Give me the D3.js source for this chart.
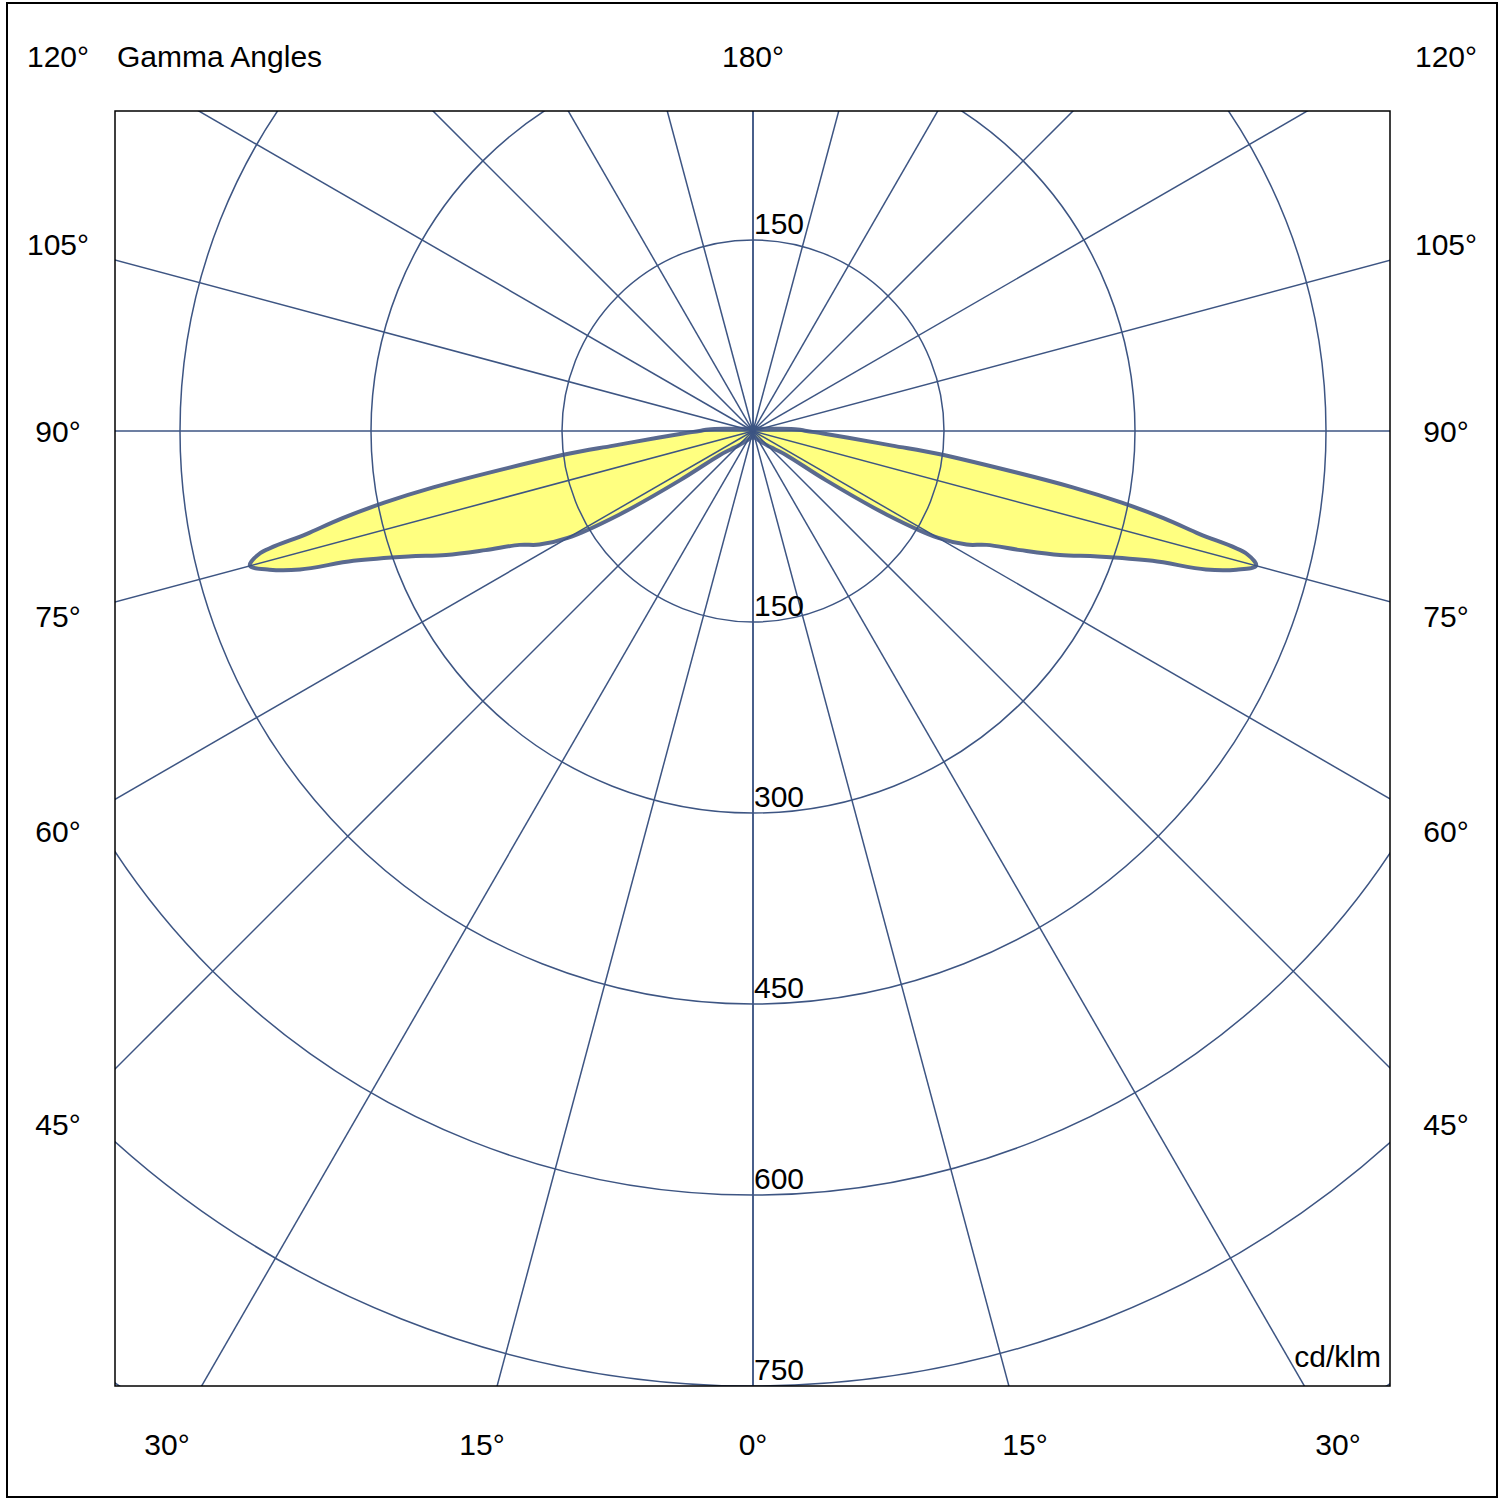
<!DOCTYPE html>
<html><head><meta charset="utf-8">
<script src="https://cdn.jsdelivr.net/npm/d3@7"></script>
<style>body{margin:0;background:#fff}text{font-family:"Liberation Sans",Arial,sans-serif;font-size:30px;fill:#000}</style>
</head><body><svg id="c" width="1503" height="1500"></svg>
<script>
const gammaAngles=[0,10,20,30,40,45,50,54,56,58,60,62,64,66,68,70,72,73,74,75,76,77,78,79,80,82,83,84,86,88,90,92,95,100,110,180];
const intensity=[5,5,6,8,12,16,22,32,69,124,168,190,204,230,260,288,330,372,395,409,400,360,330,295,255,175,145,110,75,55,42,35,20,10,5,3];
const ringValues=[150,300,450,600,750,900];
const spokeAngles=[0,15,30,45,60,75,90,105,120,135,150,165,180];
const sideLabels=[{a:"120°",y:57},{a:"105°",y:245},{a:"90°",y:432},{a:"75°",y:617},{a:"60°",y:832},{a:"45°",y:1125}];
const bottomLabels=[{t:"30°",x:167},{t:"15°",x:482},{t:"0°",x:753},{t:"15°",x:1025},{t:"30°",x:1338}];

const svg=d3.select("#c");
const cx=753,cy=431, box={x0:115,y0:111,x1:1390,y1:1386};
const r=d3.scaleLinear().domain([0,150]).range([0,191]);
const col="#3d5583";
svg.append("rect").attr("x",7).attr("y",3).attr("width",1490).attr("height",1494).attr("fill","none").attr("stroke","#000").attr("stroke-width",2);
svg.append("clipPath").attr("id","cl").append("rect").attr("x",box.x0).attr("y",box.y0).attr("width",box.x1-box.x0).attr("height",box.y1-box.y0);
const g=svg.append("g").attr("clip-path","url(#cl)");
const pt=(a,v,s)=>[cx+s*Math.sin(a*Math.PI/180)*r(v), cy+Math.cos(a*Math.PI/180)*r(v)];
[-1,1].forEach(s=>{
  const pts=gammaAngles.map((a,i)=>pt(a,intensity[i],s));
  g.append("path").attr("d",d3.line().curve(d3.curveCatmullRomClosed)(pts)).attr("fill","#ffff80").attr("stroke","#5a6a8f").attr("stroke-width",4);
});
ringValues.forEach(v=>g.append("circle").attr("cx",cx).attr("cy",cy).attr("r",r(v)).attr("fill","none").attr("stroke",col).attr("stroke-width",1.5));
spokeAngles.forEach(a=>[-1,1].forEach(s=>{const p=pt(a,2000,s);g.append("line").attr("x1",cx).attr("y1",cy).attr("x2",p[0]).attr("y2",p[1]).attr("stroke",col).attr("stroke-width",1.5);}));
svg.append("rect").attr("x",box.x0).attr("y",box.y0).attr("width",box.x1-box.x0).attr("height",box.y1-box.y0).attr("fill","none").attr("stroke","#000").attr("stroke-width",1.5);
ringValues.slice(0,5).forEach(v=>svg.append("text").attr("x",cx+1).attr("y",cy+r(v)-6).text(v));
svg.append("text").attr("x",cx+1).attr("y",cy-r(150)-6).text(150);
sideLabels.forEach(d=>{
  svg.append("text").attr("x",58).attr("y",d.y+10).attr("text-anchor","middle").text(d.a);
  svg.append("text").attr("x",1446).attr("y",d.y+10).attr("text-anchor","middle").text(d.a);
});
bottomLabels.forEach(d=>svg.append("text").attr("x",d.x).attr("y",1455).attr("text-anchor","middle").text(d.t));
svg.append("text").attr("x",753).attr("y",67).attr("text-anchor","middle").text("180°");
svg.append("text").attr("x",117).attr("y",67).text("Gamma Angles");
svg.append("text").attr("x",1381).attr("y",1367).attr("text-anchor","end").text("cd/klm");
</script></body></html>
